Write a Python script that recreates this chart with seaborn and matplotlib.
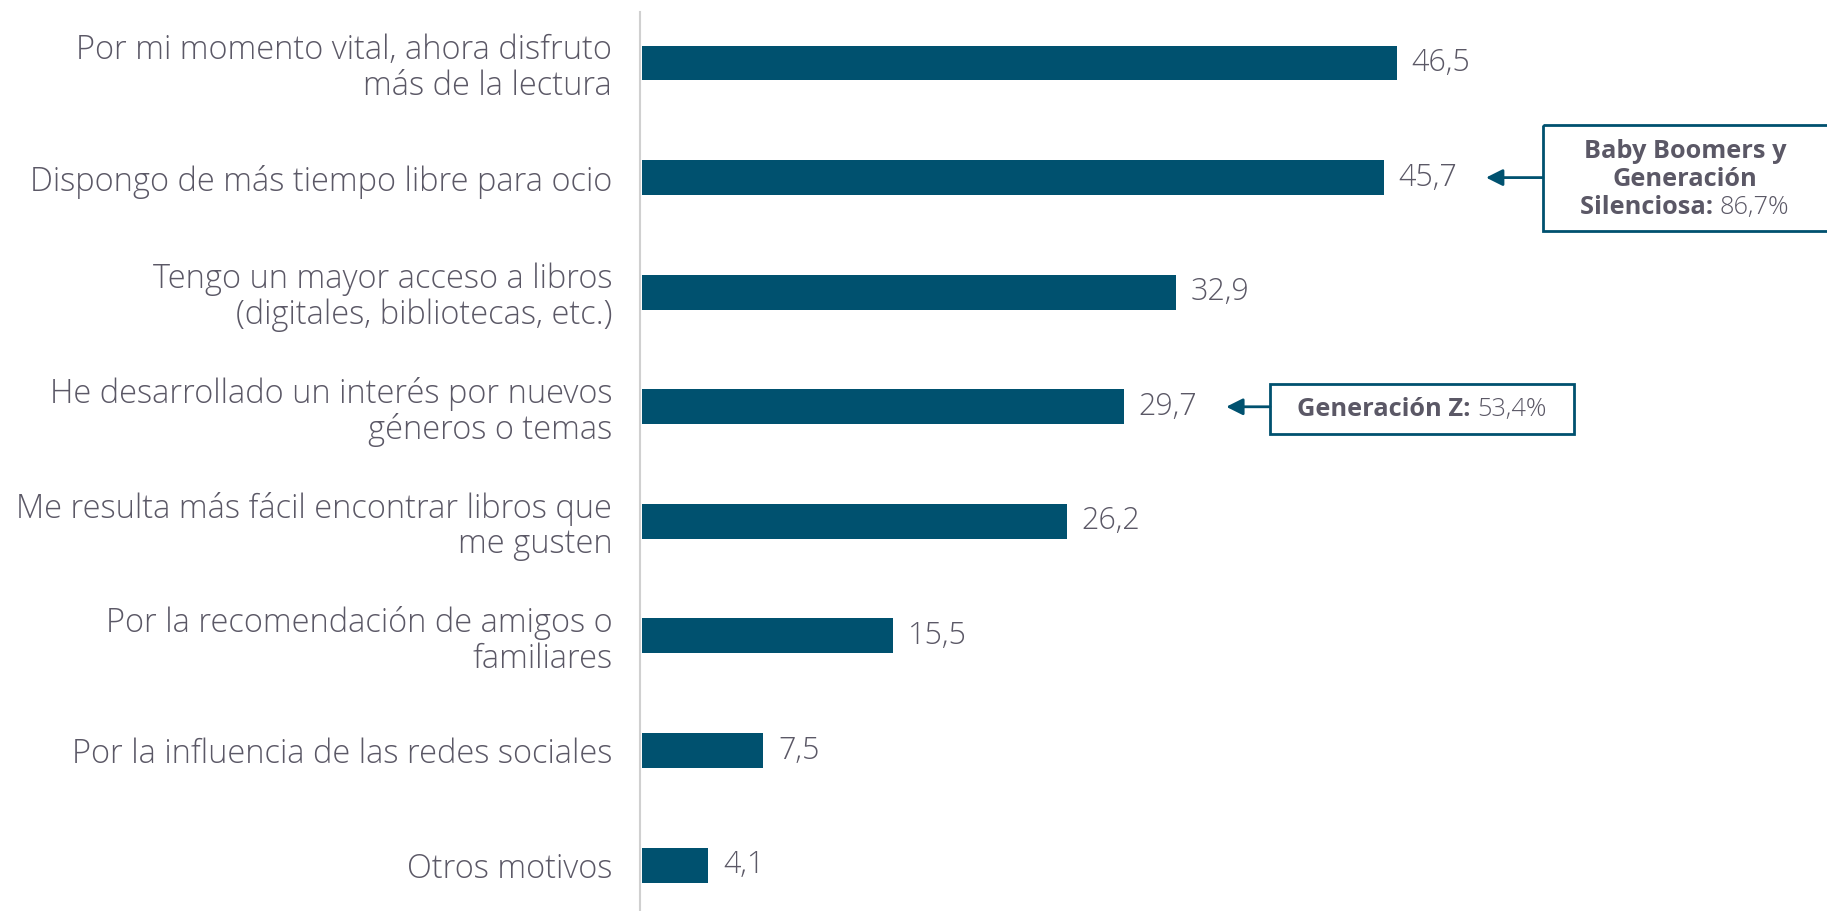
import matplotlib
matplotlib.use("Agg")
import matplotlib.pyplot as plt
import seaborn as sns
import pandas as pd
from matplotlib.patches import Rectangle

categories = [
    "Por mi momento vital, ahora disfruto\nmás de la lectura",
    "Dispongo de más tiempo libre para ocio",
    "Tengo un mayor acceso a libros\n(digitales, bibliotecas, etc.)",
    "He desarrollado un interés por nuevos\ngéneros o temas",
    "Me resulta más fácil encontrar libros que\nme gusten",
    "Por la recomendación de amigos o\nfamiliares",
    "Por la influencia de las redes sociales",
    "Otros motivos",
]
values = [46.5, 45.7, 32.9, 29.7, 26.2, 15.5, 7.5, 4.1]
value_labels = ["46,5", "45,7", "32,9", "29,7", "26,2", "15,5", "7,5", "4,1"]

callout_index = [1, 3]
callout_bold = [["Baby Boomers y", "Generación", "Silenciosa: "], ["Generación Z: "]]
callout_value = ["86,7%", "53,4%"]

BAR = "#00516F"
TXT = "#5B5866"

sns.set_theme(style="white")
plt.rcParams["font.family"] = ["Open Sans", "DejaVu Sans"]

df = pd.DataFrame({"cat": categories, "val": values})

fig = plt.figure(figsize=(18.27, 9.11), dpi=100)
ax = fig.add_axes([640 / 1827, 0, 1 - 640 / 1827, 1 - 12 / 911])
sns.barplot(data=df, x="val", y="cat", color=BAR, width=0.305, ax=ax,
            saturation=1, edgecolor="none")
ax.set_xlim(-0.1, 73.0)
ax.set_ylim(7.4, -0.445)
ax.set_xlabel("")
ax.set_ylabel("")
ax.set_xticks([])
for s in ["top", "right", "bottom"]:
    ax.spines[s].set_visible(False)
ax.spines["left"].set_color("#D0D0D0")
ax.spines["left"].set_linewidth(1.5)
ax.tick_params(axis="y", length=0, pad=20)
for lab in ax.get_yticklabels():
    lab.set_fontsize(23.5)
    lab.set_fontweight(300)
    lab.set_color(TXT)
    lab.set_horizontalalignment("right")
    lab.set_multialignment("right")
    lab.set_linespacing(1.08)

for i, (v, t) in enumerate(zip(values, value_labels)):
    ax.text(v + 0.9, i, t, va="center", ha="left", fontsize=22,
            fontweight=300, color=TXT)

fig.canvas.draw()
renderer = fig.canvas.get_renderer()

FS = 18.3
for k, idx in enumerate(callout_index):
    v = values[idx]
    tip = v + 6.3
    if k == 0:
        x0, x1 = v + 9.8, 74.0
        y0, y1 = idx - 0.46, idx + 0.47
    else:
        x0, x1 = v + 9.0, v + 27.7
        y0, y1 = idx - 0.195, idx + 0.235
    ax.add_patch(Rectangle((x0, y0), x1 - x0, y1 - y0, fill=False,
                           edgecolor=BAR, linewidth=2, clip_on=False))
    ax.annotate("", xy=(tip, idx), xytext=(x0, idx),
                arrowprops=dict(arrowstyle="-|>", color=BAR, lw=2,
                                mutation_scale=25, shrinkA=0, shrinkB=0))
    cx = (x0 + min(x1, 73.0)) / 2 if k == 0 else (x0 + x1) / 2
    lines = callout_bold[k]
    n = len(lines)
    spacing = 0.245
    for j, line in enumerate(lines):
        yy = idx + (j - (n - 1) / 2) * spacing + 0.02
        if j == n - 1:
            tb = ax.text(0, yy, line, fontsize=FS, fontweight="bold", color=TXT,
                         va="center", ha="left")
            tn = ax.text(0, yy, callout_value[k], fontsize=FS, color=TXT,
                         fontweight=300, va="center", ha="left")
            wb = tb.get_window_extent(renderer).width
            wn = tn.get_window_extent(renderer).width
            inv = ax.transData.inverted()
            px_c = ax.transData.transform((cx, yy))[0]
            start_px = px_c - (wb + wn) / 2
            xs = inv.transform((start_px, 0))[0]
            xn = inv.transform((start_px + wb, 0))[0]
            tb.set_x(xs)
            tn.set_x(xn)
        else:
            ax.text(cx, yy, line, fontsize=FS, fontweight="bold", color=TXT,
                    va="center", ha="center")

fig.savefig("out.png", dpi=100)
